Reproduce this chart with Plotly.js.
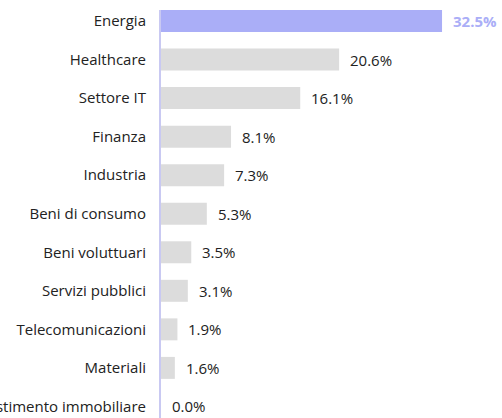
<!DOCTYPE html>
<html><head><meta charset="utf-8">
<script src="https://cdn.plot.ly/plotly-3.0.1.min.js"></script>
<style>html,body{margin:0;padding:0;background:#fff}</style>
</head><body><div id="chart" style="width:502px;height:418px"></div>
<script>
const categories = ["Energia","Healthcare","Settore IT","Finanza","Industria","Beni di consumo","Beni voluttuari","Servizi pubblici","Telecomunicazioni","Materiali","Investimento immobiliare"];
const values = [32.5,20.6,16.1,8.1,7.3,5.3,3.5,3.1,1.9,1.6,0.0];
const highlight = "Energia";

const barColors = categories.map(c => c === highlight ? "#aaaef7" : "#dcdcdc");
const annotations = categories.map((c,i) => ({
  x: values[i], y: c, xref: "x", yref: "y",
  text: values[i].toFixed(1) + "%",
  showarrow: false, xanchor: "left", yanchor: "middle", xshift: 9,
  font: c === highlight
    ? {family: "Open Sans", size: 15, color: "#aaaef7", weight: "bold"}
    : {family: "Open Sans", size: 15, color: "#222222"}
}));

const trace = {
  type: "bar", orientation: "h",
  x: values, y: categories,
  marker: {color: barColors},
  hoverinfo: "none"
};

const layout = {
  width: 502, height: 418,
  margin: {l: 161, r: 38, t: 10, b: 0},
  paper_bgcolor: "#fff", plot_bgcolor: "#fff",
  bargap: 0.43,
  showlegend: false,
  xaxis: {range: [0, 35.04], visible: false, fixedrange: true},
  yaxis: {
    type: "category", range: [10.30, -0.286], autorange: false,
    showline: true, linecolor: "#c9c9f2", linewidth: 2,
    showgrid: false, zeroline: false, ticks: "",
    ticklabelstandoff: 10,
    tickfont: {family: "Open Sans", size: 15, color: "#222222"},
    automargin: false
  },
  annotations: annotations
};
Plotly.newPlot("chart", [trace], layout, {displayModeBar: false, staticPlot: true});
</script></body></html>
